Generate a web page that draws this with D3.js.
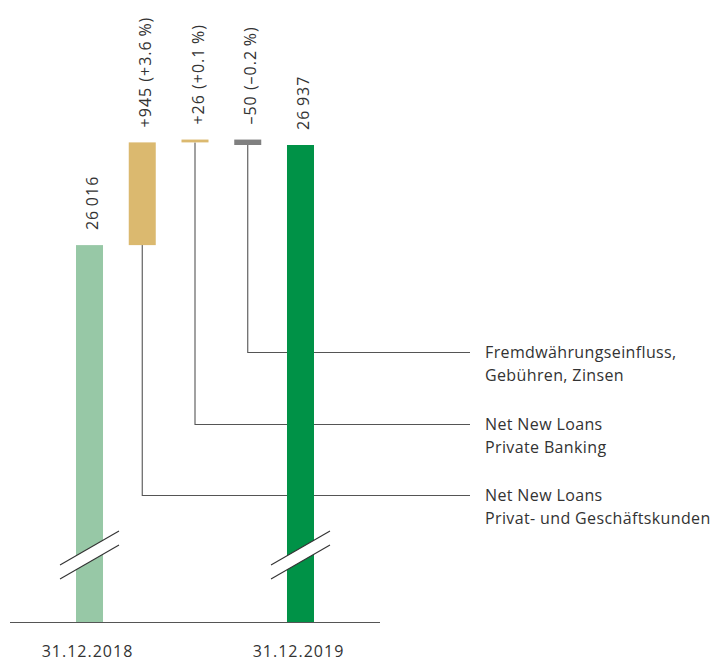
<!DOCTYPE html>
<html><head><meta charset="utf-8">
<script src="https://cdn.jsdelivr.net/npm/d3@7"></script>
<style>
html,body{margin:0;padding:0;background:#fff;}
text{font-family:"Open Sans","Noto Sans",sans-serif;fill:#333;}
</style></head>
<body><svg id="c" width="715" height="666"></svg>
<script>
const categories = ["31.12.2018", "NNL PK", "NNL PB", "FX", "31.12.2019"];
const startValue = 26016;
const deltas = [945, 26, -50];
const endValue = 26937;
const valueLabels = ["26\u2009016", "+945 (+3.6\u2009%)", "+26 (+0.1\u2009%)", "\u201350 (\u20130.2\u2009%)", "26\u2009937"];
const axisLabels = ["31.12.2018", "", "", "", "31.12.2019"];
const legendLabels = [
  ["Net New Loans", "Privat- und Geschäftskunden"],
  ["Net New Loans", "Private Banking"],
  ["Fremdwährungseinfluss,", "Gebühren, Zinsen"]
];
const colors = ["#97c8a6", "#dbb96f", "#dbb96f", "#808080", "#009247"];

const svg = d3.select("#c");
const x = d3.scaleBand().domain(categories).range([76, 314]).paddingInner(0.488).paddingOuter(0);
const y = d3.scaleLinear().domain([22544, 26937]).range([622.5, 145]);

// build waterfall rows
const rows = [];
rows.push({cat: categories[0], y0: y.domain()[0], y1: startValue});
let run = startValue;
deltas.forEach((d, i) => {
  rows.push({cat: categories[i + 1], y0: run, y1: run + d});
  run += d;
});
rows.push({cat: categories[4], y0: y.domain()[0], y1: endValue});

// leader lines (drawn first, under bars)
const leaderY = [495.5, 424.5, 352.5];
const leaderEnd = 470;
deltas.forEach((d, i) => {
  const r = rows[i + 1];
  const cx = x(r.cat) + x.bandwidth() / 2;
  const yb = Math.max(y(r.y0), y(r.y1));
  svg.append("path")
    .attr("d", `M${cx},${yb}V${leaderY[i]}H${leaderEnd}`)
    .attr("fill", "none").attr("stroke", "#555").attr("stroke-width", 1.1);
  const t = svg.append("text").attr("x", 485).attr("y", leaderY[i] + 5.5)
    .style("font-size", "16px").style("letter-spacing", "0.37px");
  legendLabels[i].forEach((ln, j) => {
    t.append("tspan").attr("x", 485).attr("dy", j === 0 ? 0 : 22.5).text(ln);
  });
});

// bars
svg.selectAll("rect.bar").data(rows).join("rect")
  .attr("class", "bar")
  .attr("x", d => x(d.cat))
  .attr("width", x.bandwidth())
  .attr("y", d => Math.min(y(d.y0), y(d.y1)))
  .attr("height", d => Math.max(2.8, Math.abs(y(d.y0) - y(d.y1))))
  .attr("fill", (d, i) => colors[i]);

// value labels rotated
svg.selectAll("text.val").data(rows).join("text")
  .attr("class", "val")
  .attr("transform", d => {
    const cx = x(d.cat) + x.bandwidth() / 2 + 8.5;
    const top = Math.min(y(d.y0), y(d.y1)) - 15;
    return `translate(${cx},${top}) rotate(-90)`;
  })
  .style("font-size", "16px")
  .style("letter-spacing", "1px")
  .text((d, i) => valueLabels[i]);

// break marks on the two total bars
const breakVal = 23230;
[0, 4].forEach(i => {
  const cx = x(categories[i]) + x.bandwidth() / 2;
  const yb = y(breakVal);
  const hw = 29.5, rise = 17, gap = 14;
  svg.append("path")
    .attr("d", `M${cx - hw},${yb + rise}L${cx + hw},${yb - rise}L${cx + hw},${yb - rise + gap}L${cx - hw},${yb + rise + gap}Z`)
    .attr("fill", "#fff");
  [0, gap].forEach(o => {
    svg.append("line")
      .attr("x1", cx - hw).attr("y1", yb + rise + o)
      .attr("x2", cx + hw).attr("y2", yb - rise + o)
      .attr("stroke", "#333").attr("stroke-width", 1.1);
  });
});

// axis
svg.append("line").attr("x1", 10).attr("x2", 380).attr("y1", 622.5).attr("y2", 622.5)
  .attr("stroke", "#555").attr("stroke-width", 1.2);
svg.selectAll("text.cat").data(categories).join("text")
  .attr("class", "cat")
  .attr("x", d => x(d) + x.bandwidth() / 2 - 2)
  .attr("y", 657)
  .attr("text-anchor", "middle")
  .style("font-size", "16px")
  .style("letter-spacing", "1px")
  .text((d, i) => axisLabels[i]);
</script></body></html>
